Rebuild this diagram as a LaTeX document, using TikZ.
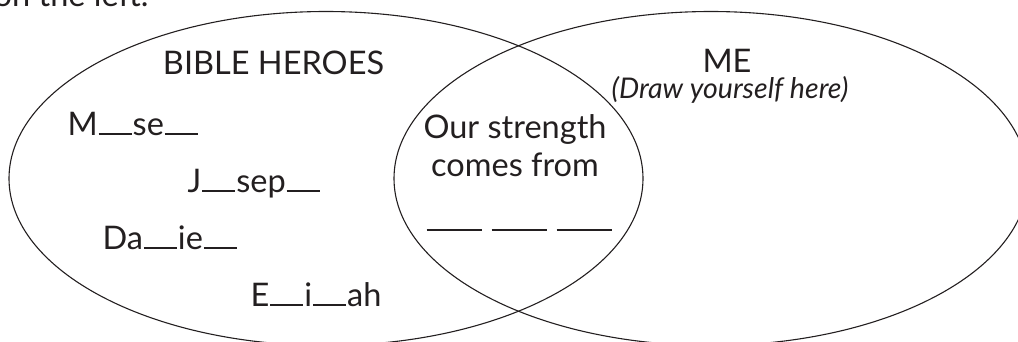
\documentclass[tikz,border=0pt]{standalone}
\usepackage{fontspec}
\setmainfont{Lato}
\definecolor{ink}{HTML}{231F20}
\newcommand{\gap}[1][33pt]{\kern1pt\rule{#1}{1.8pt}\kern1pt}

\begin{document}
\begin{tikzpicture}[x=1pt, y=-1pt, line width=1.1pt,
	word/.style={font=\fontsize{32.5}{36}\selectfont, text=ink, inner sep=0pt, anchor=base},
	note/.style={font=\fontsize{28.5}{32}\selectfont\itshape, text=ink, inner sep=0pt, anchor=base}]
	\useasboundingbox (0,0) rectangle (1018,341);
	\clip (0,0) rectangle (1018,341);
	\draw[ink] (326,178.5) ellipse [x radius=317, y radius=167];
	\draw[ink] (711,178.5) ellipse [x radius=317, y radius=167];
	\node[word, anchor=base east] (intro) at (149,6) {on the left.};
	\node[word] (heroes) at (273.5,74) {BIBLE HEROES};
	\node[word] (me) at (727,72) {ME};
	\node[note] (drawhere) at (730,98) {(Draw yourself here)};
	\node[word, anchor=base west] (moses) at (67,135) {M\gap se\gap};
	\node[word, anchor=base west] (joseph) at (187,192) {J\gap sep\gap};
	\node[word, anchor=base west] (daniel) at (102,249) {Da\gap ie\gap};
	\node[word, anchor=base west] (elijah) at (250,306) {E\gap i\gap ah};
	\node[word] (strength) at (515,138) {Our strength};
	\node[word] (from) at (515,176) {comes from};
	\node[word] (blanks) at (519,231) {\rule{55pt}{1.8pt}\hspace{10pt}\rule{55pt}{1.8pt}\hspace{10pt}\rule{55pt}{1.8pt}};
\end{tikzpicture}
\end{document}
